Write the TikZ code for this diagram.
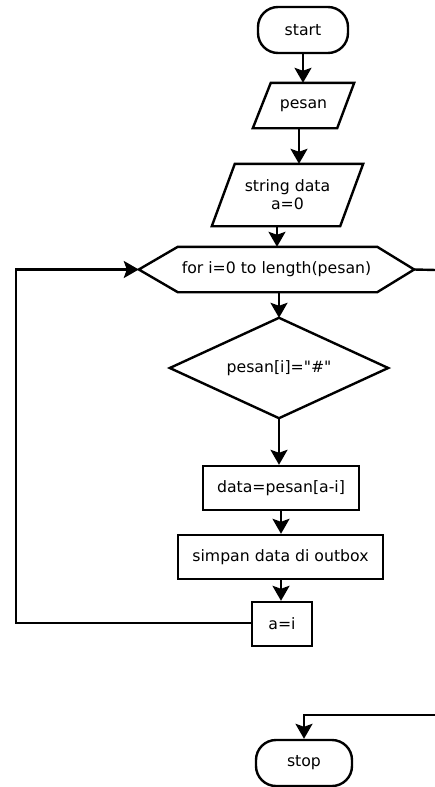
\documentclass[tikz,border=0pt]{standalone}
\usepackage{fontspec}
\setmainfont{DejaVu Sans}[Ligatures=TeXOff]
\usetikzlibrary{shapes.geometric,arrows.meta}
\begin{document}
\begin{tikzpicture}[x=1pt,y=-1pt,
  every node/.style={font=\fontsize{15.7}{18}\selectfont, inner sep=0pt, align=center},
  ln/.style={line width=2.4pt, line join=miter},
  arr/.style={ln, -{Stealth[length=15pt,width=17pt,inset=3pt]}},
  term/.style={draw, line width=2.4pt, rectangle, rounded corners=20pt},
  boxx/.style={draw, line width=2.4pt, rectangle},
  ghost/.style={rectangle}
]
\useasboundingbox (0,0) rectangle (435,787);
\node[term, minimum width=90pt, minimum height=46pt] (start) at (303,30) {start};
\node[ghost, minimum width=101pt, minimum height=45pt] (pesan) at (303.5,105.5) {pesan};
\draw[ln] ([xshift=18pt]pesan.north west) -- (pesan.north east) -- ([xshift=-17pt]pesan.south east) -- (pesan.south west) -- cycle;
\node[ghost, minimum width=151pt, minimum height=62pt] (sd) at (287.5,195) {string data\\a=0};
\draw[ln] ([xshift=23pt]sd.north west) -- (sd.north east) -- ([xshift=-23pt]sd.south east) -- (sd.south west) -- cycle;
\node[ghost, minimum width=275pt, minimum height=45pt] (for) at (276.5,269.5) {for i=0 to length(pesan)};
\draw[ln] ([xshift=39pt]for.north west) -- ([xshift=-37pt]for.north east) -- (for.east) -- ([xshift=-37pt]for.south east) -- ([xshift=39pt]for.south west) -- (for.west) -- cycle;
\node[ghost, minimum width=218pt, minimum height=100pt] (dia) at (279,368) {pesan[i]="\#"};
\draw[ln] (dia.north) -- (dia.east) -- (dia.south) -- (dia.west) -- cycle;
\node[boxx, minimum width=156pt, minimum height=44pt] (data) at (281,488) {data=pesan[a-i]};
\node[boxx, minimum width=205pt, minimum height=44pt] (simpan) at (280.5,557) {simpan data di outbox};
\node[boxx, minimum width=60pt, minimum height=44pt] (ai) at (282,624) {a=i};
\node[term, minimum width=96pt, minimum height=46pt] (stop) at (304,763) {stop};
\coordinate (lp) at (16,623);
\coordinate (ex1) at (436,270);
\coordinate (ex2) at (436,715);
\draw[arr] (start.south) -- (start.south |- pesan.north);
\draw[arr] ([xshift=-4.5pt]pesan.south) -- ([xshift=-4.5pt]pesan.south |- sd.north);
\draw[arr] ([xshift=-10.5pt]sd.south) -- ([xshift=-10.5pt]sd.south |- for.north);
\draw[arr] (dia.north |- for.south) -- (dia.north);
\draw[arr] (dia.south) -- (dia.south |- data.north);
\draw[arr] (data.south) -- (data.south |- simpan.north);
\draw[arr] (data.south |- simpan.south) -- (data.south |- ai.north);
\draw[arr] (ai.west |- lp) -- (lp) |- (for.west);
\draw[ln] (for.east) -- (ex1);
\draw[arr] (ex2) -| (stop.north);
\end{tikzpicture}
\end{document}
